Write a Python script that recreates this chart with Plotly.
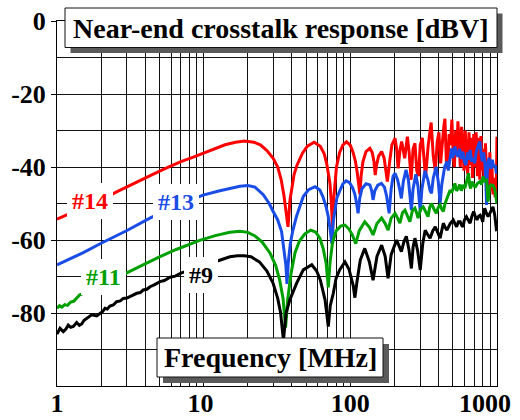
import math
import plotly.graph_objects as go

# ---------------- data (frequency MHz, response dBV) ----------------
RED_14 = [
    (1.0, -54.3), (1.13, -53.4), (1.5, -51.2), (2.0, -49.0), (2.55, -46.8), (3.2, -44.8), (3.7, -43.6),
    (4.5, -42.0), (5.5, -40.4), (7.0, -38.5), (8.5, -37.3), (10.0, -36.2), (12.0, -34.9), (14.0, -33.9),
    (16.5, -33.2), (19.0, -32.9), (22.0, -33.2), (24.5, -34.0), (27.0, -35.5), (29.8, -37.6), (32.0, -40.0),
    (33.8, -43.5), (35.2, -47.5), (36.5, -52.0), (37.6, -56.4),
    (38.8, -49.0), (40.2, -44.5), (41.4, -42.0), (43.3, -39.5), (47.2, -36.2), (51.0, -34.3), (56.7, -33.2),
    (62.4, -34.3), (66.3, -36.3), (69.0, -39.0), (71.0, -41.5), (72.7, -44.5), (74.3, -50.0), (75.8, -57.3),
    (77.0, -49.0), (78.5, -44.0), (80.5, -40.0), (84.6, -36.0), (89.0, -34.0), (94.2, -33.1), (100.0, -34.0),
    (104.5, -36.0), (108.5, -38.5), (111.5, -41.5), (114.0, -44.5), (116.3, -47.5),
    (118.5, -42.5), (122.0, -38.5), (128.0, -35.8), (136.0, -34.9), (141.0, -36.0), (145.0, -38.5), (148.0, -42.2),
    (151.0, -39.5), (156.0, -37.0), (163.6, -35.8), (170.0, -37.5), (175.0, -41.0), (179.0, -44.0),
    (185.0, -39.0), (192.0, -34.0), (202.0, -32.1), (207.0, -35.0), (212.0, -40.4), (218.0, -35.5), (224.0, -33.0),
    (235.0, -37.6), (245.0, -31.7), (252.0, -36.0), (260.0, -43.5), (268.0, -35.0), (276.0, -33.5), (284.0, -41.0),
    (292.0, -42.5), (300.0, -34.0), (310.0, -32.0), (318.0, -38.5), (326.0, -43.0), (340.0, -34.0), (356.0, -27.8),
    (368.0, -37.0), (380.0, -41.0), (392.0, -33.0), (402.0, -30.5), (413.0, -39.0), (424.0, -33.0), (434.0, -29.0),
    (442.0, -26.8), (452.0, -38.5), (462.0, -40.5), (472.0, -31.0), (482.0, -34.0), (493.0, -27.0), (503.0, -37.0),
    (513.0, -40.0), (523.0, -30.0), (533.0, -36.0), (542.0, -27.5), (552.0, -35.0), (563.0, -40.0), (574.0, -29.0),
    (585.0, -33.5), (596.0, -41.0), (608.0, -30.0), (620.0, -37.0), (632.0, -42.0), (645.0, -30.5), (657.0, -39.5),
    (670.0, -32.0), (682.0, -43.0), (695.0, -31.0), (708.0, -40.0), (722.0, -30.5), (736.0, -42.5), (750.0, -32.0),
    (764.0, -43.5), (778.0, -31.5), (792.0, -41.0), (806.0, -35.0), (820.0, -44.0), (835.0, -33.5), (850.0, -42.0),
    (865.0, -38.0), (880.0, -45.5), (895.0, -36.0), (910.0, -46.5), (925.0, -40.0), (940.0, -47.5), (955.0, -43.0),
    (970.0, -47.7), (990.0, -47.5), (1000.0, -31.7),
]

BLUE_13 = [
    (1.0, -66.8), (1.5, -63.5), (2.0, -60.9), (3.0, -57.4), (4.3, -54.0), (6.0, -51.3), (8.0, -49.2), (9.9, -47.7),
    (12.9, -46.5), (15.1, -45.8), (17.7, -45.3), (20.0, -45.1), (22.4, -45.5), (25.5, -47.6), (28.0, -50.0),
    (29.8, -52.2), (32.0, -54.5), (34.0, -57.7), (35.3, -62.3), (36.4, -67.0), (37.0, -72.0), (37.8, -66.0),
    (39.0, -61.0), (40.5, -57.5), (43.0, -53.5), (47.8, -48.1), (52.0, -46.2), (57.5, -45.4), (62.0, -46.3),
    (65.0, -48.1), (68.5, -51.0), (70.7, -53.5), (72.8, -57.0), (74.8, -61.0), (76.5, -55.0), (78.5, -51.5),
    (81.0, -48.5), (84.6, -46.6), (89.0, -44.6), (93.6, -43.8), (99.0, -44.3), (104.0, -45.8), (107.5, -47.5),
    (110.5, -50.0), (113.0, -52.7), (116.0, -48.5), (120.0, -46.0), (128.0, -44.6), (136.0, -44.9), (140.0, -46.5),
    (143.0, -49.0), (147.0, -46.5), (154.0, -45.0), (163.0, -44.5), (171.0, -45.5), (177.0, -48.0), (184.0, -52.7),
    (190.0, -46.0), (196.0, -42.5), (202.0, -41.7), (210.0, -43.5), (217.0, -46.0), (223.0, -48.6), (230.0, -44.0),
    (240.0, -40.8), (249.0, -43.5), (256.0, -48.0), (261.0, -51.8), (268.0, -46.0), (280.0, -42.0), (290.0, -45.5),
    (296.0, -49.5), (300.0, -52.2), (308.0, -46.0), (323.0, -41.0), (338.0, -43.5), (350.0, -46.5), (358.0, -47.2),
    (368.0, -43.0), (385.0, -40.0), (398.0, -44.0), (410.0, -50.0), (420.0, -45.0), (440.0, -40.0), (456.0, -38.5),
    (466.0, -41.0), (478.0, -38.0), (490.0, -34.9), (500.0, -37.5), (510.0, -35.5), (517.0, -34.4), (530.0, -36.5),
    (543.0, -37.2), (556.0, -35.0), (570.0, -37.8), (587.0, -35.8), (600.0, -38.5), (615.0, -39.5), (632.0, -36.0),
    (645.0, -38.0), (657.0, -35.3), (672.0, -38.5), (690.0, -37.5), (705.0, -39.0), (722.0, -36.0), (740.0, -34.5),
    (765.0, -33.0), (780.0, -36.5), (795.0, -38.5), (812.0, -36.0), (828.0, -39.0), (840.0, -44.0), (850.0, -50.4),
    (858.0, -42.0), (870.0, -38.5), (885.0, -37.5), (900.0, -39.5), (912.0, -40.5), (930.0, -38.0), (950.0, -40.0),
    (975.0, -39.5), (990.0, -41.7), (1000.0, -41.5),
]

GREEN_11 = [
    (1.0, -78.7), (1.04, -78.0), (1.08, -78.4), (1.13, -77.7), (1.18, -77.9), (1.24, -77.0), (1.3, -76.8),
    (1.36, -76.0), (1.43, -75.0), (1.7, -73.8), (2.0, -72.4), (2.5, -70.4), (3.14, -68.4), (4.0, -66.4),
    (5.0, -64.6), (6.5, -62.6), (8.0, -61.2), (9.4, -60.1), (12.0, -58.8), (15.1, -57.9), (17.7, -57.6),
    (20.0, -57.9), (22.4, -58.9), (25.0, -60.5), (28.4, -63.6), (31.0, -67.0), (33.0, -71.0), (34.8, -76.0),
    (36.2, -84.0), (37.5, -76.0), (39.5, -69.0), (42.0, -63.5), (45.0, -60.3), (49.0, -58.3), (53.6, -57.3),
    (58.0, -57.8), (62.0, -59.5), (65.5, -62.5), (68.5, -66.5), (70.8, -73.0), (72.8, -66.0), (75.5, -61.0),
    (80.0, -57.5), (86.0, -56.2), (92.0, -55.9), (98.0, -57.0), (103.0, -58.5), (109.0, -61.0), (115.0, -57.5),
    (125.5, -55.0), (135.0, -56.5), (143.0, -58.6), (152.0, -55.5), (163.6, -54.0), (173.0, -55.5), (181.0, -57.3),
    (190.0, -54.0), (202.0, -52.7), (210.0, -54.0), (218.0, -55.4), (227.0, -52.5), (236.0, -51.8), (246.0, -53.5),
    (255.0, -55.0), (265.0, -52.0), (276.0, -51.3), (283.0, -52.5), (290.0, -54.0), (302.0, -51.5), (314.0, -50.9),
    (326.0, -52.2), (339.0, -53.6), (348.0, -51.0), (357.0, -50.0), (372.0, -51.5), (386.0, -52.7), (398.0, -51.0),
    (410.0, -50.4), (420.0, -51.5), (431.0, -52.2), (443.0, -50.0), (456.0, -48.6), (468.0, -47.3), (480.0, -46.3),
    (492.0, -47.0), (504.0, -45.9), (517.0, -44.5), (530.0, -46.5), (544.0, -45.9), (558.0, -44.8), (572.0, -46.5),
    (587.0, -44.9), (605.0, -45.8), (625.0, -43.5), (640.0, -41.7), (652.0, -45.0), (662.0, -45.9), (676.0, -44.0),
    (690.0, -44.6), (710.0, -45.6), (735.0, -44.5), (765.0, -44.0), (785.0, -44.8), (805.0, -42.6), (825.0, -43.8),
    (850.0, -43.6), (870.0, -49.5), (890.0, -45.5), (910.0, -44.9), (940.0, -45.0), (965.0, -46.0), (990.0, -50.0),
    (1000.0, -50.0),
]

BLACK_9 = [
    (1.0, -85.8), (1.048, -84.2), (1.104, -85.1), (1.15, -84.4), (1.194, -83.3), (1.24, -83.9), (1.292, -83.7),
    (1.362, -82.6), (1.42, -83.4), (1.474, -83.0), (1.53, -82.0), (1.594, -81.5), (1.66, -81.2), (1.724, -80.5),
    (1.865, -80.8), (1.963, -80.1), (2.05, -79.6), (2.124, -78.7), (2.2, -78.9), (2.297, -78.1), (2.42, -77.8),
    (2.55, -76.9), (2.7, -76.7), (2.83, -76.0), (3.0, -75.9), (3.14, -75.5), (3.3, -75.1), (3.5, -74.6),
    (3.7, -74.4), (3.87, -73.7), (4.1, -73.5), (4.31, -72.8), (4.6, -72.3), (5.04, -71.4), (5.4, -71.1),
    (5.9, -70.2), (6.4, -69.9), (7.07, -69.0), (8.5, -68.0), (10.5, -66.8), (12.0, -66.0), (13.3, -65.3),
    (15.1, -64.6), (17.0, -64.3), (19.0, -64.3), (21.0, -64.6), (24.0, -66.0), (27.0, -68.5), (29.8, -71.9),
    (32.0, -76.0), (33.5, -80.0), (35.0, -87.5), (36.5, -80.0), (38.7, -76.4), (43.0, -71.9), (47.8, -68.2),
    (54.6, -66.8), (59.0, -68.5), (62.5, -71.0), (67.3, -76.4), (70.8, -83.7), (73.0, -78.0), (76.6, -74.6),
    (80.0, -70.5), (84.6, -68.2), (92.0, -66.0), (98.0, -68.0), (104.7, -72.5), (107.5, -75.8), (111.0, -71.5),
    (117.0, -65.5), (125.5, -62.3), (135.0, -66.0), (143.0, -71.0), (152.0, -64.5), (163.6, -61.4), (173.0, -64.5),
    (181.0, -70.5), (190.0, -64.0), (207.0, -60.0), (215.0, -61.5), (223.0, -63.2), (232.0, -60.5), (241.0, -59.0),
    (251.0, -62.5), (261.0, -67.8), (268.0, -62.0), (276.0, -59.5), (288.0, -63.0), (300.0, -68.2), (312.0, -61.0),
    (324.0, -57.3), (337.0, -58.5), (350.0, -59.5), (365.0, -57.5), (380.0, -56.4), (395.0, -58.0), (410.0, -59.5),
    (420.0, -57.5), (431.0, -55.4), (443.0, -56.5), (456.0, -57.3), (480.0, -55.5), (504.0, -54.5), (517.0, -55.5),
    (531.0, -56.4), (546.0, -55.0), (562.0, -55.0), (575.0, -56.0), (587.0, -56.4), (600.0, -54.5), (619.0, -53.6),
    (637.0, -54.5), (656.0, -55.4), (675.0, -53.5), (694.0, -52.2), (712.0, -53.5), (731.0, -54.5), (750.0, -53.5),
    (769.0, -53.2), (785.0, -54.0), (800.0, -55.0), (812.0, -53.0), (825.0, -51.3), (845.0, -52.5), (870.0, -53.6),
    (900.0, -52.5), (920.0, -51.5), (940.0, -50.9), (965.0, -53.0), (980.0, -56.0), (993.0, -57.3), (1000.0, -57.5),
]

SERIES = [
    ("#14", RED_14, "#ff0000", (1.68, -49.2)),
    ("#13", BLUE_13, "#1a4de6", (6.48, -49.5)),
    ("#11", GREEN_11, "#00a000", (2.07, -70.0)),
    ("#9", BLACK_9, "#000000", (9.55, -69.6)),
]

X_TICK_VALUES = [1, 10, 100, 1000]
X_TICK_TEXT = ["1", "10\u00a0", "100", ""]
X_LAST_TICK_TEXT = "1000"   # drawn as a label pulled inside the page, like the reference
Y_TICK_VALUES = [0, -20, -40, -60, -80]
Y_TICK_TEXT = ["0", "-20", "-40", "-60", "-80"]

TITLE = "Near-end crosstalk response [dBV]"
X_TITLE = "Frequency [MHz]"

# ---------------- layout geometry ----------------
W, H = 520, 420
ML, MR, MT, MB = 57, 23, 21, 34
PW, PH = W - ML - MR, H - MT - MB
FONT = "Liberation Serif, Times New Roman, serif"


def px(x):
    return (x - ML) / PW


def py(y):
    return (H - MB - y) / PH


fig = go.Figure()
for name, pts, color, _ in SERIES:
    fig.add_trace(go.Scatter(
        x=[p[0] for p in pts], y=[p[1] for p in pts], mode="lines", name=name,
        line=dict(color=color, width=3), showlegend=False, hoverinfo="skip",
    ))

shapes = []
annotations = []


def boxed(x0, y0, x1, y1, dx, dy):
    shapes.append(dict(type="rect", xref="paper", yref="paper", layer="above",
                       x0=px(x0 + dx), x1=px(x1 + dx), y0=py(y1 + dy), y1=py(y0 + dy),
                       fillcolor="#5a5a5a", line=dict(width=0)))
    shapes.append(dict(type="rect", xref="paper", yref="paper", layer="above",
                       x0=px(x0), x1=px(x1), y0=py(y1), y1=py(y0),
                       fillcolor="white", line=dict(color="#111111", width=1)))


boxed(65, 8, 497, 47.5, 5.5, 5.5)
annotations.append(dict(xref="paper", yref="paper", x=px(281), y=py(28), text=TITLE, showarrow=False,
                        xanchor="center", yanchor="middle",
                        font=dict(family=FONT, size=28, color="black", weight="bold")))
boxed(157, 338, 383, 377, 6, 6)
annotations.append(dict(xref="paper", yref="paper", x=px(270), y=py(357.5), text=X_TITLE, showarrow=False,
                        xanchor="center", yanchor="middle",
                        font=dict(family=FONT, size=28, color="black", weight="bold")))

# last x tick label, shifted left so it stays inside the page
annotations.append(dict(xref="paper", yref="paper", x=px(484.5), y=py(403.5), text=X_LAST_TICK_TEXT,
                        showarrow=False, xanchor="center", yanchor="middle",
                        font=dict(family=FONT, size=26, color="black", weight="bold")))

for name, _, color, (lf, ldb) in SERIES:
    annotations.append(dict(x=math.log10(lf), y=ldb, xref="x", yref="y", text=name, showarrow=False,
                            bgcolor="white", borderpad=5, borderwidth=0,
                            font=dict(family=FONT, size=24, color=color, weight="bold")))

grid_col = "#111111"
fig.update_layout(
    width=W, height=H, margin=dict(l=ML, r=MR, t=MT, b=MB, pad=0),
    paper_bgcolor="white", plot_bgcolor="white", template="none",
    shapes=shapes, annotations=annotations, showlegend=False,
    xaxis=dict(type="log", range=[0, 3.0005], tickmode="array", tickvals=X_TICK_VALUES, ticktext=X_TICK_TEXT,
               showgrid=True, gridcolor=grid_col, gridwidth=1, zeroline=False,
               showline=True, linecolor="black", linewidth=1, mirror=True, ticks="",
               ticklabelstandoff=-6,
               minor=dict(dtick="D1", showgrid=True, gridcolor=grid_col, gridwidth=1, ticks=""),
               tickfont=dict(family=FONT, size=26, color="black", weight="bold")),
    yaxis=dict(range=[-100, 0], tickmode="array", tickvals=Y_TICK_VALUES, ticktext=Y_TICK_TEXT,
               showgrid=True, gridcolor=grid_col, gridwidth=1, zeroline=False,
               showline=True, linecolor="black", linewidth=1, mirror=True,
               ticks="outside", ticklen=5, tickcolor="black",
               minor=dict(dtick=10, tick0=0, showgrid=True, gridcolor=grid_col, gridwidth=1, ticks=""),
               tickfont=dict(family=FONT, size=26, color="black", weight="bold")),
)

fig.write_html("out.html")
